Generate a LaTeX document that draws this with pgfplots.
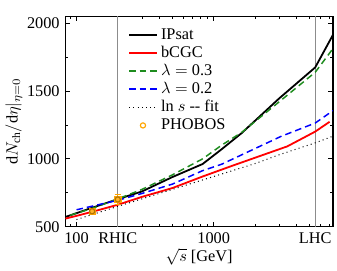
\documentclass[border=0pt]{standalone}
\usepackage{pgfplots}
\pgfplotsset{compat=1.18}
\usepackage{fontspec}
\setmainfont{Liberation Serif}
\definecolor{phob}{RGB}{255,165,0}
\definecolor{dgreen}{RGB}{30,140,30}
\begin{document}
\begin{tikzpicture}
\begin{axis}[
  scale only axis, width=164pt, height=129pt,
  xmode=log, xmin=83, xmax=7400, ymin=500, ymax=2050,
  xtick={100,200,1000,5500}, xticklabels={100,RHIC,1000,LHC},
  minor xtick={90,300,400,500,600,700,800,900,2000,3000,4000,5000,6000,7000},
  ytick={500,1000,1500,2000}, minor ytick={750,1250,1750},
  tick align=inside, major tick length=3pt, minor tick length=1.8pt,
  tick style={black, line width=0.5pt},
  axis line style={line width=0.7pt},
  /pgf/number format/assume math mode=true,
  yticklabel style={/pgf/number format/1000 sep={}},
  xlabel={$\sqrt{s}$ [GeV]},
  ylabel={$\mathrm{d}N_{\mathrm{ch}}/\mathrm{d}\eta|_{\eta=0}$},
  xlabel style={yshift=4pt},
  ylabel style={yshift=-4pt},
  legend style={at={(0.215,0.975)}, anchor=north west, draw=none, fill=none, row sep=-1.3pt, font=\normalsize},
  legend cell align=left,
]
\addplot[gray!90, line width=0.8pt, forget plot] coordinates {(200,400)(200,2100)};
\addplot[gray!90, line width=0.8pt, forget plot] coordinates {(5500,400)(5500,2100)};
\addplot[black, line width=1.1pt] coordinates {(83,572)(100,600)(130,640)(200,703)(300,760)(500,866)(830,962)(1140,1070)(1600,1190)(3000,1445)(5500,1674)(7400,1913)};
\addlegendentry{IPsat}
\addplot[red, line width=1.1pt] coordinates {(83,560)(100,580)(130,610)(200,662)(300,720)(500,785)(830,870)(1347,947)(3440,1092)(5500,1201)(7000,1273)};
\addlegendentry{bCGC}
\addplot[dgreen, line width=0.9pt, dash pattern=on 4pt off 2.5pt] coordinates {(90,585)(130,635)(200,705)(300,775)(500,882)(830,1000)(1140,1100)(1600,1195)(3000,1420)(5500,1638)(7400,1812)};
\addlegendentry{$\lambda =$ 0.3}
\addplot[blue, line width=0.9pt, dash pattern=on 4pt off 2.5pt] coordinates {(100,625)(200,695)(300,745)(500,814)(830,913)(1140,960)(3087,1165)(5500,1264)(7400,1355)};
\addlegendentry{$\lambda =$ 0.2}
\addplot[black, line width=0.6pt, dotted] coordinates {(100,553)(200,650)(500,775)(1000,870)(2000,965)(3000,1030)(5500,1118)(7400,1167)};
\addlegendentry{ln $s$ -{}- fit}
\addplot[phob, only marks, mark=square*, mark size=1.9pt, mark options={fill=phob!85, draw=phob}, forget plot,
  error bars/.cd, y dir=both, y explicit, error bar style={line width=0.8pt}, error mark options={rotate=90, mark size=2pt}]
  coordinates {(130,614) +- (0,20) (200,701) +- (0,35)};
\addplot[phob!70!black, only marks, mark=o, mark size=1.6pt, line width=0.7pt, legend image post style={phob}]
  coordinates {(130,614) (200,701)};
\addlegendentry{PHOBOS}
\end{axis}
\path ([yshift=10pt]current axis.north east);
\end{tikzpicture}
\end{document}
